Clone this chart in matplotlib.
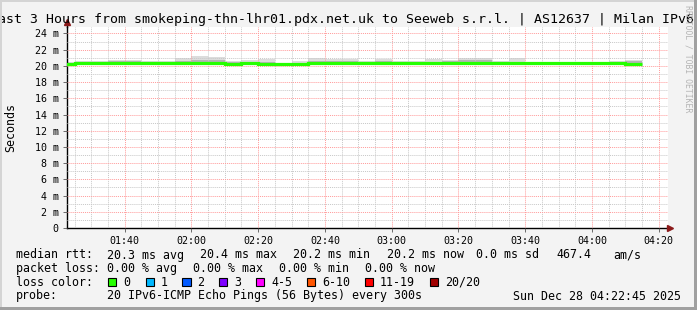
import matplotlib
matplotlib.use("Agg")
import matplotlib.pyplot as plt
from matplotlib.patches import Rectangle
from matplotlib.ticker import MultipleLocator
import numpy as np

# --- data (minutes after midnight, 5 minute bins) ---
bin_start = list(range(80, 255, 5))  # 01:20 ... 04:10
median_rtt = [20.2, 20.35, 20.35, 20.35, 20.35, 20.35, 20.35, 20.35, 20.4, 20.4,
              20.25, 20.3, 20.2, 20.2, 20.25, 20.35, 20.3, 20.3, 20.35, 20.4,
              20.35, 20.35, 20.35, 20.35, 20.35, 20.35, 20.35, 20.35, 20.35, 20.35,
              20.35, 20.3, 20.35, 20.35, 20.2]
smoke_hi = [20.45, 20.55, 20.55, 20.7, 20.7, 20.55, 20.55, 21.0, 21.25, 21.1,
            20.6, 20.7, 20.85, 20.4, 20.6, 21.0, 20.85, 20.85, 20.6, 20.8,
            20.6, 20.6, 20.85, 20.7, 21.0, 21.0, 20.6, 20.95, 20.45, 20.45,
            20.45, 20.45, 20.45, 20.6, 20.7]
smoke_mid = [20.3, 20.45, 20.45, 20.55, 20.6, 20.45, 20.4, 20.6, 20.75, 20.7,
             20.45, 20.5, 20.5, 20.3, 20.4, 20.6, 20.55, 20.55, 20.5, 20.55,
             20.45, 20.45, 20.5, 20.55, 20.75, 20.75, 20.45, 20.45, 20.4, 20.4,
             20.4, 20.4, 20.4, 20.45, 20.55]
smoke_lo = [20.1, 20.15, 20.15, 20.1, 20.1, 20.2, 20.2, 20.2, 20.2, 20.2,
            20.1, 20.15, 20.1, 20.1, 20.15, 20.2, 20.15, 20.05, 20.2, 20.2,
            20.2, 20.2, 20.2, 20.15, 20.2, 20.2, 20.2, 20.2, 20.25, 20.25,
            20.25, 20.1, 20.25, 20.2, 20.1]

x_ticks = [100, 120, 140, 160, 180, 200, 220, 240, 260]
x_labels = ["01:40", "02:00", "02:20", "02:40", "03:00", "03:20", "03:40", "04:00", "04:20"]
y_ticks = list(range(0, 25, 2))
y_labels = ["0"] + [f"{v} m" for v in y_ticks[1:]]

title = "Last 3 Hours from smokeping-thn-lhr01.pdx.net.uk to Seeweb s.r.l. | AS12637 | Milan IPv6"

rtt_row = [("median rtt:", 16), ("20.3 ms avg", 107), ("20.4 ms max", 200),
           ("20.2 ms min", 293), ("20.2 ms now", 386.5), ("0.0 ms sd", 476.5),
           ("467.4", 556.5), ("am/s", 613.3)]
loss_row = [("packet loss:", 16), ("0.00 % avg", 107), ("0.00 % max", 193.3),
            ("0.00 % min", 279.3), ("0.00 % now", 365)]
loss_labels = ["0", "1", "2", "3", "4-5", "6-10", "11-19", "20/20"]
loss_colors = ["#26ff00", "#00b8ff", "#0059ff", "#7e00ff", "#ff00ff",
               "#ff5500", "#ff0000", "#a10000"]
loss_box_x = [108, 145.7, 182.3, 219, 256, 307, 365, 430]
probe_text = "20 IPv6-ICMP Echo Pings (56 Bytes) every 300s"
stamp_text = "Sun Dec 28 04:22:45 2025"

W, H = 697, 310
MONO = "DejaVu Sans Mono"


def fx(px):
    return px / W


def fy(py):
    return 1 - py / H


fig = plt.figure(figsize=(W / 100, H / 100), dpi=100, facecolor="#f3f3f3")
ax = fig.add_axes([fx(67), fy(228), fx(601), 201 / H])
ax.set_facecolor("white")

edges = np.array(bin_start + [bin_start[-1] + 5])
ax.stairs(smoke_hi, edges, baseline=smoke_lo, fill=True, color="#dcdcdc", zorder=1)
ax.stairs(smoke_mid, edges, baseline=smoke_lo, fill=True, color="#b4b4b4", zorder=1.1)
ax.stairs(median_rtt, edges, baseline=None, color="#26ff00", linewidth=2.3, zorder=3)

ax.set_xlim(82.75, 262.75)
ax.set_ylim(0, 24.8)
ax.set_xticks(x_ticks)
ax.set_xticklabels(x_labels)
ax.set_yticks(y_ticks)
ax.set_yticklabels(y_labels)
ax.xaxis.set_minor_locator(MultipleLocator(5))
ax.yaxis.set_minor_locator(MultipleLocator(1))

ax.set_axisbelow(False)
ax.grid(which="minor", color="#c8c8c8", linestyle=(0, (1, 1)), linewidth=0.7, zorder=2)
ax.grid(which="major", color="#ff9a9a", linestyle=(0, (1, 1)), linewidth=0.7, zorder=2)

ax.tick_params(which="major", length=3, width=0.6, color="#555555", labelsize=7.2, pad=3)
ax.tick_params(which="minor", length=0)
for lbl in ax.get_xticklabels() + ax.get_yticklabels():
    lbl.set_family(MONO)

for side in ("top", "right"):
    ax.spines[side].set_visible(False)
for side in ("left", "bottom"):
    ax.spines[side].set_color("black")
    ax.spines[side].set_linewidth(1)

# axis arrows
ax.plot([1.004], [0], marker=">", markersize=4, color="#8b1a1a",
        transform=ax.transAxes, clip_on=False, zorder=5)
ax.plot([0, 0], [1.0, 1.02], color="black", lw=1, transform=ax.transAxes, clip_on=False)
ax.plot([0], [1.025], marker="^", markersize=4, color="#8b1a1a",
        transform=ax.transAxes, clip_on=False, zorder=5)

fig.text(fx(11), fy(127), "Seconds", rotation=90, ha="center", va="center",
         family=MONO, fontsize=8.4)
fig.text(fx(342.5), fy(19), title, ha="center", va="center", family=MONO, fontsize=9.5)
fig.text(fx(688), fy(5), "RRDTOOL / TOBI OETIKER", rotation=270, ha="center", va="top",
         family=MONO, fontsize=5.9, color="#b4b4b4")

# legend rows
for txt, x in rtt_row:
    fig.text(fx(x), fy(255), txt, ha="left", va="center", family=MONO, fontsize=8.4)
for txt, x in loss_row:
    fig.text(fx(x), fy(268.5), txt, ha="left", va="center", family=MONO, fontsize=8.4)
fig.text(fx(16), fy(282), "loss color:", ha="left", va="center", family=MONO, fontsize=8.4)
for lab, col, x in zip(loss_labels, loss_colors, loss_box_x):
    fig.add_artist(Rectangle((fx(x), fy(286.2)), 8.3 / W, 8.3 / H, transform=fig.transFigure,
                             facecolor=col, edgecolor="black", linewidth=0.8))
    fig.text(fx(x + 15), fy(282), lab, ha="left", va="center", family=MONO, fontsize=8.4)
fig.text(fx(16), fy(296), "probe:", ha="left", va="center", family=MONO, fontsize=8.4)
fig.text(fx(107), fy(296), probe_text, ha="left", va="center", family=MONO, fontsize=8.4)
fig.text(fx(513.3), fy(296), stamp_text, ha="left", va="center", family=MONO, fontsize=8.4)

# image frame (rrdtool shading)
fig.add_artist(Rectangle((0, 0), fx(2), 1, transform=fig.transFigure,
                         facecolor="#d4d4d4", edgecolor="none", zorder=10))
fig.add_artist(Rectangle((0, fy(2)), 1, 2 / H, transform=fig.transFigure,
                         facecolor="#d4d4d4", edgecolor="none", zorder=10))
fig.add_artist(Rectangle((fx(694), 0), 3 / W, 1, transform=fig.transFigure,
                         facecolor="#a0a0a0", edgecolor="none", zorder=10))
fig.add_artist(Rectangle((0, 0), 1, 3 / H, transform=fig.transFigure,
                         facecolor="#a0a0a0", edgecolor="none", zorder=10))

fig.savefig("out.png", dpi=100, facecolor=fig.get_facecolor())
